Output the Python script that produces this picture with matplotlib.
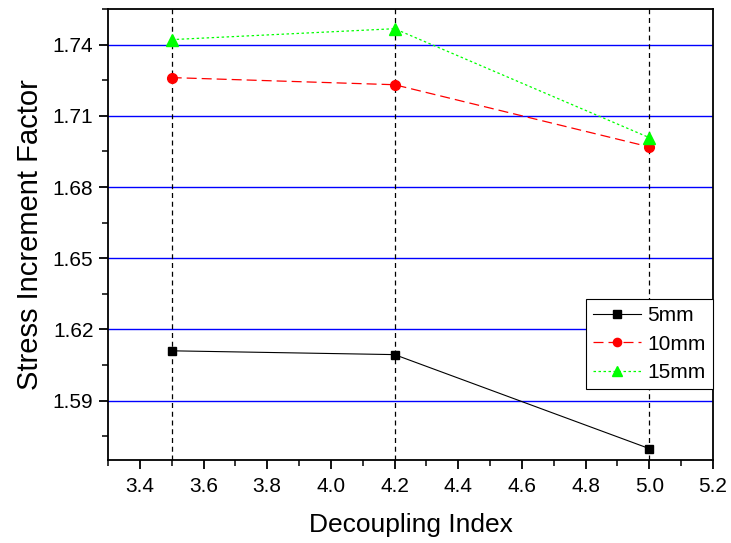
import matplotlib
matplotlib.use("Agg")
import matplotlib.pyplot as plt
from matplotlib.ticker import MultipleLocator

plt.rcParams["font.family"] = ["Liberation Sans", "DejaVu Sans"]

# data
decoupling = [3.5, 4.2, 5.0]
sif_5mm = [1.611, 1.6094, 1.5698]
sif_10mm = [1.7261, 1.7231, 1.6969]
sif_15mm = [1.7421, 1.7467, 1.7008]
yticks = [1.59, 1.62, 1.65, 1.68, 1.71, 1.74]

fig = plt.figure(figsize=(7.31, 5.43), dpi=100)
ax = fig.add_axes([108 / 731, 83 / 543, 605 / 731, 451 / 543])

for y in yticks:
    ax.axhline(y, color="#0000ff", lw=1.0, zorder=1)
for x in decoupling:
    ax.axvline(x, color="black", lw=0.9, ls=(0, (4, 3)), zorder=1)

ax.plot(decoupling, sif_5mm, color="black", lw=0.8, marker="s", ms=6,
        label="5mm", zorder=3)
ax.plot(decoupling, sif_10mm, color="red", lw=0.9, ls=(0, (8, 4)),
        marker="o", ms=7, label="10mm", zorder=3)
ax.plot(decoupling, sif_15mm, color="#00ff00", lw=0.9, ls=(0, (2, 2)),
        marker="^", ms=8, label="15mm", zorder=3)

ax.set_xlim(3.3, 5.2)
ax.set_ylim(1.565, 1.755)
ax.xaxis.set_major_locator(MultipleLocator(0.2))
ax.xaxis.set_minor_locator(MultipleLocator(0.1))
ax.set_yticks(yticks)
ax.yaxis.set_minor_locator(MultipleLocator(0.015))
ax.tick_params(which="major", direction="out", length=6.5, width=1.3,
               labelsize=15)
ax.tick_params(which="minor", direction="out", length=4, width=1.1)
ax.tick_params(axis="x", pad=6)
ax.tick_params(axis="y", pad=4)
for s in ax.spines.values():
    s.set_linewidth(1.3)

ax.set_xlabel("Decoupling Index", fontsize=19, labelpad=12)
ax.set_ylabel("Stress Increment Factor", fontsize=21, labelpad=6)

leg = ax.legend(loc="upper right", bbox_to_anchor=(1.0, 0.357),
                fontsize=15, frameon=True, fancybox=False, framealpha=1,
                edgecolor="black", borderaxespad=0, handlelength=2.3,
                handletextpad=0.3, labelspacing=0.45, borderpad=0.35,
                markerscale=0.85)
leg.get_frame().set_linewidth(0.8)

fig.savefig("out.png", dpi=100)
